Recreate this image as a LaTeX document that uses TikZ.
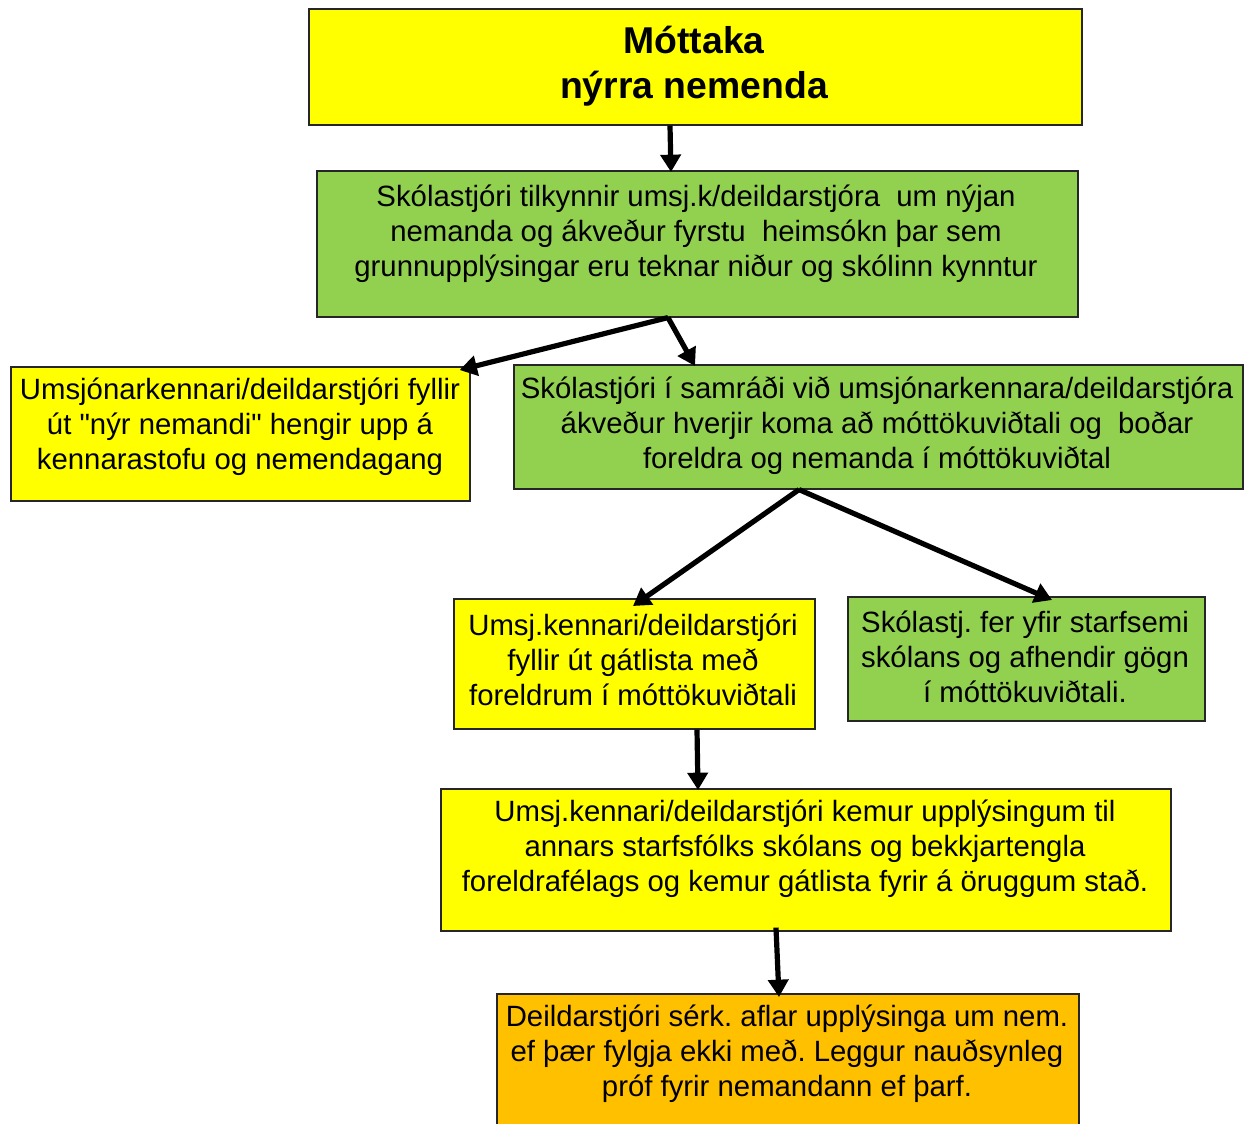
\documentclass[tikz,border=0pt]{standalone}
\usepackage{fontspec}
\setmainfont{Liberation Sans}
\newfontfamily\qfont{Liberation Sans}[Ligatures=ResetAll]
\newcommand{\sq}{{\qfont"}}
\usetikzlibrary{arrows.meta,calc}
\definecolor{cyel}{HTML}{FFFF00}
\definecolor{cgrn}{HTML}{92D050}
\definecolor{corg}{HTML}{FFC000}
\frenchspacing
\begin{document}
\begin{tikzpicture}[x=0.75pt,y=-0.75pt,
 box/.style={draw=black!85, line width=1.2pt, anchor=north west, inner sep=0pt},
 txt/.style={align=center, font=\fontsize{22}{26.25}\selectfont, inner sep=0pt},
 ttl/.style={align=center, font=\fontsize{28}{33.75}\selectfont\bfseries, inner sep=0pt},
 arr/.style={line width=3.9pt, -{Triangle[length=13pt,width=15pt]}}]
\useasboundingbox (0,0) rectangle (1247,1124);
% boxes
\node[box, fill=cyel, minimum width=579.75pt, minimum height=87pt] (title) at (308,8) {};
\node[box, fill=cgrn, minimum width=570.75pt, minimum height=109.5pt] (g1) at (316,170) {};
\node[box, fill=cyel, minimum width=344.25pt, minimum height=100.5pt] (y1) at (10,366) {};
\node[box, fill=cgrn, minimum width=546.75pt, minimum height=93pt] (g2) at (513,364) {};
\node[box, fill=cyel, minimum width=270.75pt, minimum height=97.5pt] (y2) at (453,598) {};
\node[box, fill=cgrn, minimum width=267.75pt, minimum height=93pt] (g3) at (847,596) {};
\node[box, fill=cyel, minimum width=547.5pt, minimum height=106.5pt] (y3) at (440,788) {};
\node[box, fill=corg, minimum width=436.5pt, minimum height=110.25pt] (o) at (496,993) {};
% texts
\node[ttl] (ttitle) at (694,66) {Móttaka\\nýrra nemenda};
\node[txt] (tg1) at (696,234) {Skólastjóri tilkynnir umsj.k/deildarstjóra\ \ um nýjan\\nemanda og ákveður fyrstu\ \ heimsókn þar sem\\grunnupplýsingar eru teknar niður og skólinn kynntur};
\node[txt] (ty1) at (240,427) {Umsjónarkennari/deildarstjóri fyllir\\út \sq nýr nemandi\sq\ hengir upp á\\kennarastofu og nemendagang};
\node[txt] (tg2) at (877,426) {Skólastjóri í samráði við umsjónarkennara/deildarstjóra\\ákveður hverjir koma að móttökuviðtali og\ \ boðar\\foreldra og nemanda í móttökuviðtal};
\node[txt] (ty2) at (633,660) {Umsj.kennari/deildarstjóri\\fyllir út gátlista með\\foreldrum í móttökuviðtali};
\node[txt] (tg3) at (1025,657) {Skólastj. fer yfir starfsemi\\skólans og afhendir gögn\\í móttökuviðtali.};
\node[txt] (ty3) at (805,849) {Umsj.kennari/deildarstjóri kemur upplýsingum til\\annars starfsfólks skólans og bekkjartengla\\foreldrafélags og kemur gátlista fyrir á öruggum stað.};
\node[txt] (to) at (787,1054) {Deildarstjóri sérk. aflar upplýsinga um nem.\\ef þær fylgja ekki með. Leggur nauðsynleg\\próf fyrir nemandann ef þarf.};
% arrows
\draw[arr] ($(title.south west)+(362,0)$) -- ($(g1.north west)+(355,2)$);
\draw[arr] ($(g1.south west)+(352,0)$) -- ($(y1.north east)+(-11,4)$);
\draw[arr] ($(g1.south west)+(352,0)$) -- ($(g2.north west)+(182,2)$);
\draw[arr] ($(g2.south west)+(286,0)$) -- ($(y2.north west)+(180,8)$);
\draw[arr] ($(g2.south west)+(286,0)$) -- ($(g3.north west)+(205,4)$);
\draw[arr] ($(y2.south west)+(244,0)$) -- ($(y3.north west)+(258,2)$);
\draw[arr] ($(y3.south west)+(336,-4)$) -- ($(o.north west)+(283,4)$);
\end{tikzpicture}
\end{document}
